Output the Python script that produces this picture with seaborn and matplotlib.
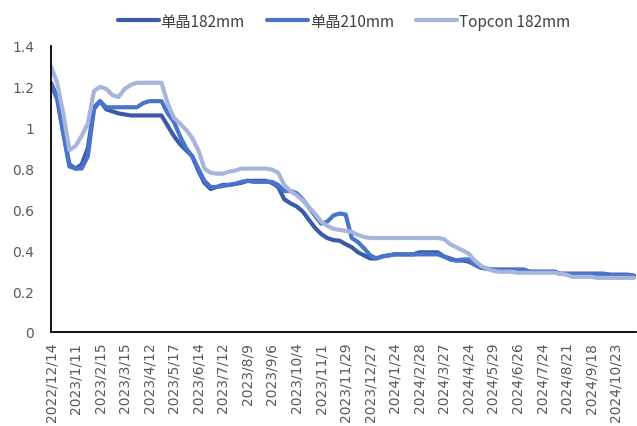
import numpy as np
import pandas as pd
import matplotlib
matplotlib.use("Agg")
import matplotlib.pyplot as plt
import seaborn as sns

# ---- data ----
label_dates = ["2022/12/14", "2023/1/11", "2023/2/15", "2023/3/15", "2023/4/12", "2023/5/17",
               "2023/6/14", "2023/7/12", "2023/8/9", "2023/9/6", "2023/10/4", "2023/11/1",
               "2023/11/29", "2023/12/27", "2024/1/24", "2024/2/28", "2024/3/27", "2024/4/24",
               "2024/5/29", "2024/6/26", "2024/7/24", "2024/8/21", "2024/9/18", "2024/10/23"]

mono182 = [1.22, 1.15, 0.98, 0.82, 0.80, 0.82, 0.90, 1.10, 1.13, 1.09,
           1.08, 1.07, 1.065, 1.06, 1.06, 1.06, 1.06, 1.06, 1.06, 1.01,
           0.96, 0.92, 0.89, 0.86, 0.79, 0.73, 0.70, 0.71, 0.72, 0.72,
           0.725, 0.73, 0.74, 0.74, 0.74, 0.74, 0.73, 0.71, 0.65, 0.63,
           0.615, 0.59, 0.55, 0.51, 0.48, 0.46, 0.45, 0.447, 0.43, 0.415,
           0.39, 0.375, 0.36, 0.36, 0.37, 0.375, 0.38, 0.38, 0.38, 0.38,
           0.39, 0.39, 0.39, 0.39, 0.37, 0.36, 0.35, 0.35, 0.345, 0.33,
           0.315, 0.31, 0.305, 0.305, 0.305, 0.305, 0.305, 0.305, 0.295, 0.295,
           0.295, 0.295, 0.295, 0.285, 0.285, 0.285, 0.285, 0.285, 0.285, 0.285,
           0.285, 0.28, 0.28, 0.28, 0.28, 0.275]

mono210 = [1.21, 1.14, 0.97, 0.81, 0.80, 0.80, 0.86, 1.09, 1.13, 1.10,
           1.10, 1.10, 1.10, 1.10, 1.10, 1.12, 1.13, 1.13, 1.13, 1.07,
           1.03, 0.96, 0.90, 0.86, 0.80, 0.74, 0.71, 0.71, 0.715, 0.72,
           0.725, 0.735, 0.74, 0.735, 0.735, 0.735, 0.735, 0.72, 0.69, 0.69,
           0.68, 0.65, 0.61, 0.57, 0.53, 0.54, 0.57, 0.58, 0.575, 0.46,
           0.44, 0.41, 0.375, 0.36, 0.37, 0.375, 0.38, 0.38, 0.38, 0.38,
           0.38, 0.38, 0.38, 0.38, 0.37, 0.355, 0.35, 0.355, 0.355, 0.33,
           0.315, 0.31, 0.305, 0.305, 0.305, 0.305, 0.305, 0.305, 0.295, 0.295,
           0.295, 0.295, 0.295, 0.285, 0.285, 0.285, 0.285, 0.285, 0.285, 0.285,
           0.285, 0.28, 0.28, 0.28, 0.28, 0.275]

topcon182 = [1.30, 1.22, 1.07, 0.89, 0.91, 0.96, 1.02, 1.18, 1.20, 1.19,
             1.16, 1.15, 1.19, 1.21, 1.22, 1.22, 1.22, 1.22, 1.22, 1.12,
             1.05, 1.02, 0.99, 0.95, 0.89, 0.80, 0.78, 0.775, 0.775, 0.785,
             0.79, 0.80, 0.80, 0.80, 0.80, 0.80, 0.795, 0.78, 0.72, 0.69,
             0.67, 0.645, 0.61, 0.58, 0.54, 0.52, 0.505, 0.50, 0.495, 0.49,
             0.475, 0.465, 0.46, 0.46, 0.46, 0.46, 0.46, 0.46, 0.46, 0.46,
             0.46, 0.46, 0.46, 0.46, 0.455, 0.43, 0.415, 0.40, 0.385, 0.35,
             0.325, 0.31, 0.30, 0.295, 0.295, 0.295, 0.29, 0.29, 0.29, 0.29,
             0.29, 0.29, 0.29, 0.285, 0.28, 0.27, 0.27, 0.27, 0.27, 0.265,
             0.265, 0.265, 0.265, 0.265, 0.265, 0.265]

series_names = ["单晶182mm", "单晶210mm", "Topcon 182mm"]
colors = ["#3A5BA6", "#4A74CB", "#A7B5DD"]

# ---- build long table ----
n = len(mono182)
idx = np.arange(n)
df = pd.concat([
    pd.DataFrame({"i": idx, "price": vals, "series": name})
    for name, vals in zip(series_names, [mono182, mono210, topcon182])
], ignore_index=True)

sns.set_style("white")
plt.rcParams["font.family"] = ["Noto Sans CJK SC", "DejaVu Sans"]

fig = plt.figure(figsize=(6.37, 4.27), dpi=100)
ax = fig.add_axes([51 / 637, (427 - 333) / 427, (636 - 51) / 637, (333 - 47) / 427])

sns.lineplot(data=df, x="i", y="price", hue="series", hue_order=series_names,
             palette=colors, linewidth=3.0, ax=ax, legend=True,
             solid_joinstyle="round", solid_capstyle="round")

handles, labels = ax.get_legend_handles_labels()
ax.get_legend().remove()
fig.legend(handles, labels, loc="upper center", bbox_to_anchor=(0.54, 1.0), ncol=3,
           frameon=False, fontsize=11, handlelength=2.7, columnspacing=1.45,
           handletextpad=0.1, labelcolor="#404040")

ax.set_xlim(0, n - 0.7)
ax.set_ylim(0, 1.4)
ax.set_yticks(np.arange(0, 1.41, 0.2))
ax.set_yticklabels(["0", "0.2", "0.4", "0.6", "0.8", "1", "1.2", "1.4"])
ax.set_xticks(idx)
xt = []
for k in idx:
    xt.append(label_dates[k // 4] if (k % 4 == 0 and k // 4 < len(label_dates)) else "")
ax.set_xticklabels(xt, rotation=90)
ax.set_xlabel("")
ax.set_ylabel("")

for s in ["top", "right"]:
    ax.spines[s].set_visible(False)
for s in ["left", "bottom"]:
    ax.spines[s].set_color("black")
    ax.spines[s].set_linewidth(1.3)

ax.tick_params(axis="both", direction="out", length=4, width=1.1, color="black",
               labelcolor="#595959", labelsize=10)
ax.tick_params(axis="x", pad=3)
ax.tick_params(axis="y", pad=8)
for lbl in ax.get_xticklabels() + ax.get_yticklabels():
    lbl.set_family(["DejaVu Sans"])
ax.grid(False)

fig.savefig("out.png", dpi=100)
